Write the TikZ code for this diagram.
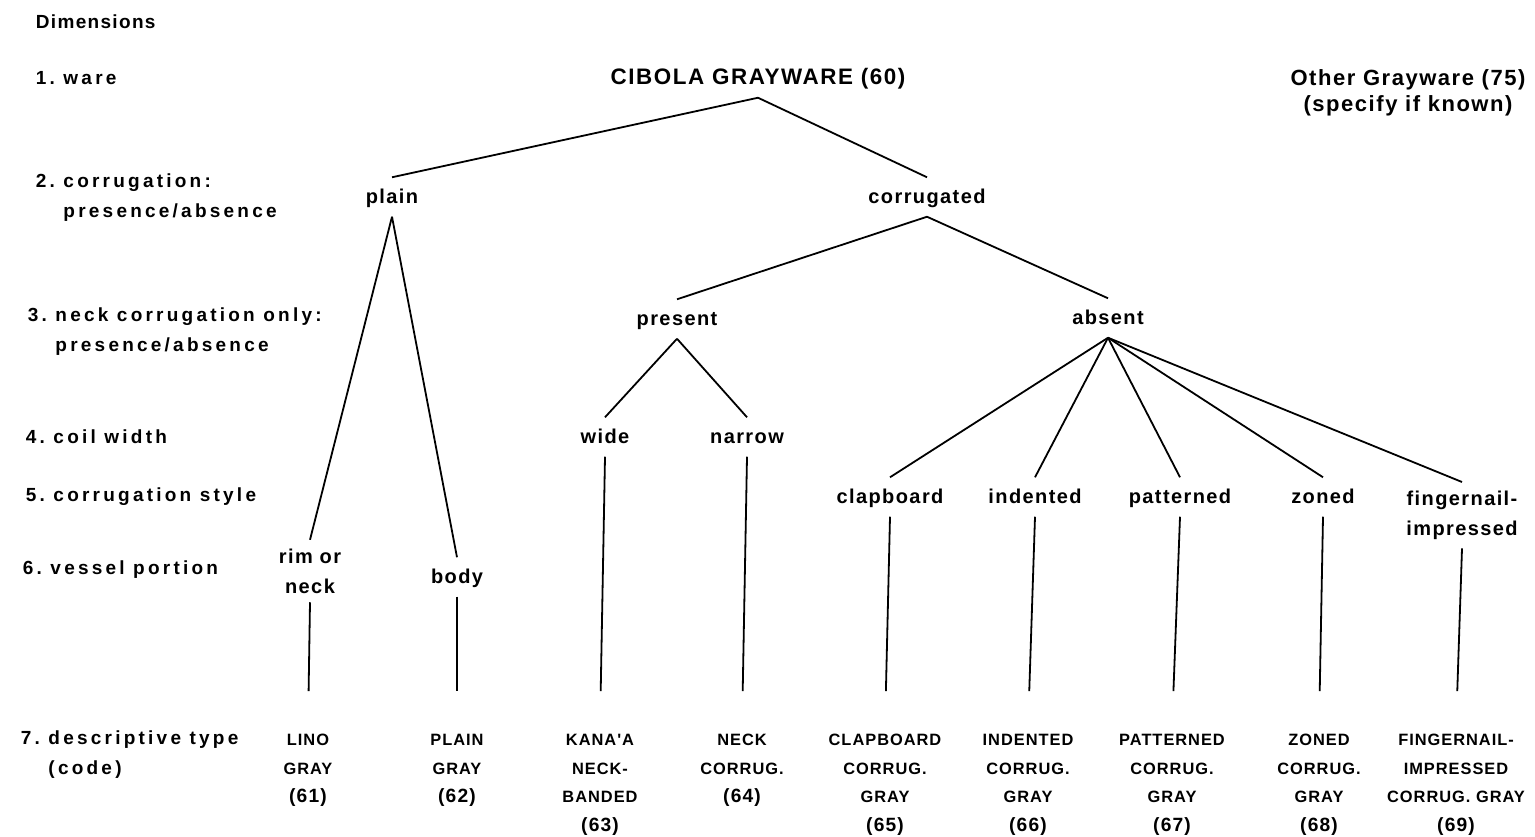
\documentclass[tikz,border=0pt]{standalone}
\usepackage{fontspec}
\setmainfont{Liberation Sans}
\newfontfamily\dimfont{Liberation Sans}[LetterSpace=17]
\newfontfamily\branchfont{Liberation Sans}[LetterSpace=7]
\newfontfamily\typefont{Liberation Sans}[LetterSpace=6]
\newcommand\typecode[1]{{\fontsize{9.6}{14.4}\selectfont(#1)}}
\usetikzlibrary{positioning}

\begin{document}
\begin{tikzpicture}[x=0.5pt,y=-0.5pt,line width=0.9pt,
    dimlabel/.style={anchor=west, inner sep=0pt, align=left, font=\dimfont\bfseries\fontsize{9.5}{15}\selectfont},
    branch/.style={inner sep=4pt, align=center, font=\branchfont\bfseries\fontsize{10}{15}\selectfont},
    oneline/.style={text height=1.6ex, text depth=0.45ex},
    typebox/.style={anchor=north, inner sep=2pt, align=center, font=\typefont\bfseries\fontsize{8.2}{14.4}\selectfont},
    down/.style={shorten >=19pt}]
  \useasboundingbox (0,0) rectangle (1535,836);

  % dimensions column
  \node[dimlabel, font=\branchfont\bfseries\fontsize{9.5}{15}\selectfont] (dimhead) at (35,22) {Dimensions};
  \node[dimlabel] (dim1) at (35,78) {1.~ware};
  \node[dimlabel] (dim2) at (35,198) {2.~corrugation:\\\phantom{2.~}presence/absence};
  \node[dimlabel] (dim3) at (27,332) {3.~neck corrugation only:\\\phantom{3.~}presence/absence};
  \node[dimlabel] (dim4) at (25,437) {4.~coil width};
  \node[dimlabel] (dim5) at (25,497) {5.~corrugation style};
  \node[dimlabel] (dim6) at (22,570) {6.~vessel portion};
  \node[dimlabel] (dim7) at (20,755) {7.~descriptive type\\\phantom{7.~}(code)};

  % tree
  \node[branch, oneline, font=\branchfont\bfseries\fontsize{11.2}{15}\selectfont] (cibola) at (758,78) {CIBOLA GRAYWARE (60)};
  \node[branch, font=\branchfont\bfseries\fontsize{11}{13}\selectfont] (other) at (1408,93) {Other Grayware (75)\\(specify if known)};
  \node[branch, oneline] (plain) at (392,197) {plain};
  \node[branch, oneline] (corrugated) at (927,197) {corrugated};
  \node[branch, oneline] (present) at (677,319) {present};
  \node[branch, oneline] (absent) at (1108,318) {absent};
  \node[branch, oneline] (wide) at (605,437) {wide};
  \node[branch, oneline] (narrow) at (747,437) {narrow};
  \node[branch, oneline] (clapboard) at (890,497) {clapboard};
  \node[branch, oneline] (indented) at (1035,497) {indented};
  \node[branch, oneline] (patterned) at (1180,497) {patterned};
  \node[branch, oneline] (zoned) at (1323,497) {zoned};
  \node[branch, anchor=north] (fingernail) at (1462,482) {fingernail-\\impressed};
  \node[branch] (rim) at (310,571) {rim or\\neck};
  \node[branch, oneline] (body) at (457,577) {body};

  % descriptive types
  \node[typebox] (lino) at (308,729) {LINO\\GRAY\\\typecode{61}};
  \node[typebox] (plaingray) at (457,729) {PLAIN\\GRAY\\\typecode{62}};
  \node[typebox] (kanaa) at (600,729) {KANA'A\\NECK-\\BANDED\\\typecode{63}};
  \node[typebox] (neckcorrug) at (742,729) {NECK\\CORRUG.\\\typecode{64}};
  \node[typebox] (clapgray) at (885,729) {CLAPBOARD\\CORRUG.\\GRAY\\\typecode{65}};
  \node[typebox] (indgray) at (1028,729) {INDENTED\\CORRUG.\\GRAY\\\typecode{66}};
  \node[typebox] (patgray) at (1172,729) {PATTERNED\\CORRUG.\\GRAY\\\typecode{67}};
  \node[typebox] (zongray) at (1319,729) {ZONED\\CORRUG.\\GRAY\\\typecode{68}};
  \node[typebox] (fingray) at (1456,729) {FINGERNAIL-\\IMPRESSED\\CORRUG.~GRAY\\\typecode{69}};

  \path (cibola.south) edge (plain.north)
                       edge (corrugated.north)
        (corrugated.south) edge (present.north)
                           edge (absent.north)
        (present.south) edge (wide.north)
                        edge (narrow.north)
        (absent.south) edge (clapboard.north)
                       edge (indented.north)
                       edge (patterned.north)
                       edge (zoned.north)
                       edge (fingernail.north)
        (plain.south) edge (rim.north)
                      edge (body.north);

  \path[down] (rim.south) edge (lino.north)
              (body.south) edge (plaingray.north)
              (wide.south) edge (kanaa.north)
              (narrow.south) edge (neckcorrug.north)
              (clapboard.south) edge (clapgray.north)
              (indented.south) edge (indgray.north)
              (patterned.south) edge (patgray.north)
              (zoned.south) edge (zongray.north)
              (fingernail.south) edge (fingray.north);
\end{tikzpicture}
\end{document}
